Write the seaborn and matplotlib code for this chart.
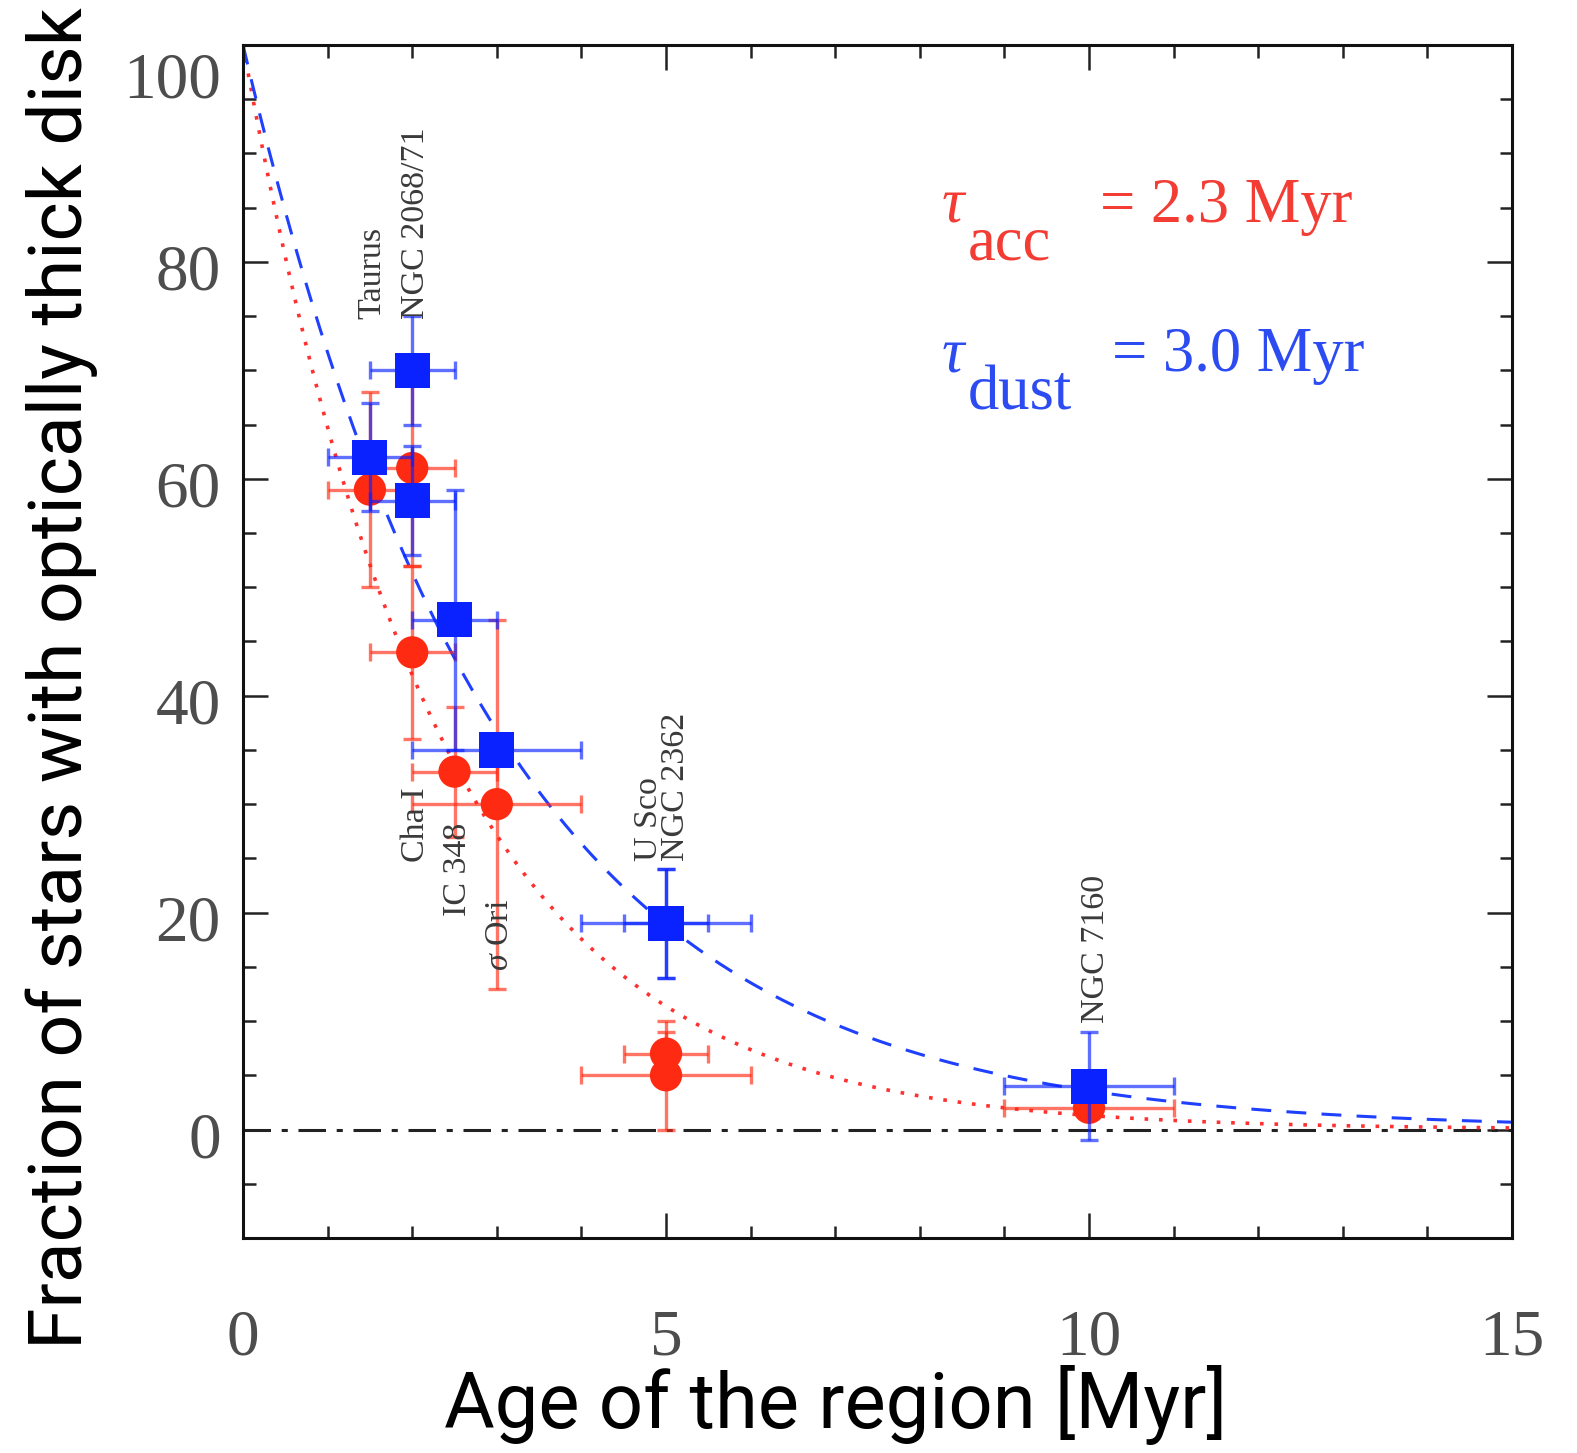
import numpy as np
import pandas as pd
import matplotlib
matplotlib.use("Agg")
import matplotlib.pyplot as plt
import matplotlib.transforms as mtransforms
import seaborn as sns

# Star-forming regions and their ages [Myr]
regions = ["Taurus", "NGC 2068/71", "Cha I", "IC 348", r"$\it{\sigma}$ Ori",
           "U Sco", "NGC 2362", "NGC 7160"]
age = [1.5, 2.0, 2.0, 2.5, 3.0, 5.0, 5.0, 10.0]
age_err = [0.5, 0.5, 0.5, 0.5, 1.0, 1.0, 0.5, 1.0]

# Fraction of accreting stars [%]
acc_frac = [59, 61, 44, 33, 30, 5, 7, 2]
acc_err = [9, 9, 8, 6, 17, 5, 2, 0]

# Fraction of stars with optically thick (dusty) disks [%]
dust_frac = [62, 70, 58, 47, 35, 19, 19, 4]
dust_err = [5, 5, 5, 12, 0, 5, 5, 5]

# Exponential decay timescales [Myr]
tau_acc = 2.3
tau_dust = 3.0

# Where each region name sits (centre x, bottom y in data units)
label_pos = {
    "Taurus": (1.53, 74.7),
    "NGC 2068/71": (2.04, 74.7),
    "Cha I": (2.04, 24.7),
    "IC 348": (2.54, 19.7),
    r"$\it{\sigma}$ Ori": (3.04, 14.6),
    "U Sco": (4.80, 24.8),
    "NGC 2362": (5.12, 24.8),
    "NGC 7160": (10.08, 9.8),
}

RED = "#ff2a12"
BLUE = "#0a22ff"
RED_TXT = "#f23c34"
BLUE_TXT = "#2c4cf2"
GREY = "#4d4d4d"

sns.set_theme(style="white")
plt.rcParams["font.family"] = ["Liberation Serif", "DejaVu Serif"]
plt.rcParams["mathtext.fontset"] = "custom"
plt.rcParams["mathtext.rm"] = "Liberation Serif"
plt.rcParams["mathtext.it"] = "Liberation Serif:italic"

fig = plt.figure(figsize=(15.77, 14.53), dpi=100)
ax = fig.add_axes([0.1541, 0.1480, 0.8047, 0.8210])

# Model curves
t = np.linspace(0, 15, 600)
curves = pd.DataFrame({
    "age": t,
    "acc": 100 * np.exp(-t / tau_acc),
    "dust": 100 * np.exp(-t / tau_dust),
})

ax.axhline(0, color="#222222", lw=2.2, ls=(0, (9, 3.5, 2, 3.5)), zorder=1)
sns.lineplot(data=curves, x="age", y="acc", ax=ax, color="#ff3030",
             lw=2.6, ls=(0, (1, 3)), zorder=2)
sns.lineplot(data=curves, x="age", y="dust", ax=ax, color="#2040ff",
             lw=2.2, ls=(0, (6.5, 5)), zorder=2)

# Accretion fractions
ax.errorbar(age, acc_frac, xerr=age_err, yerr=acc_err, fmt="none",
            ecolor=RED, elinewidth=2.4, capsize=6.5, capthick=2.4,
            alpha=0.65, zorder=3)
sns.scatterplot(x=age, y=acc_frac, ax=ax, marker="o", s=540, color=RED,
                edgecolor="none", linewidth=0, zorder=4)

# Dust fractions
ax.errorbar(age, dust_frac, xerr=age_err, yerr=dust_err, fmt="none",
            ecolor=BLUE, elinewidth=2.4, capsize=6.5, capthick=2.4,
            alpha=0.65, zorder=5)
sns.scatterplot(x=age, y=dust_frac, ax=ax, marker="s", s=640, color=BLUE,
                edgecolor="none", linewidth=0, zorder=6)

# Region names
for name in regions:
    lx, ly = label_pos[name]
    ax.text(lx, ly, name, rotation=90, ha="center", va="bottom",
            fontsize=24.5, color="#3a3a3a", zorder=7)

# Timescale annotations
for col, base, sub, val, vx in [(RED_TXT, 83.7, "acc", "= 2.3 Myr", 10.13),
                                (BLUE_TXT, 69.9, "dust", "= 3.0 Myr", 10.27)]:
    ax.text(8.26, base, "τ", fontsize=45, style="italic", color=col,
            ha="left", va="baseline")
    ax.text(8.57, base - 3.5, sub, fontsize=45, color=col,
            ha="left", va="baseline")
    ax.text(vx, base, val, fontsize=45, color=col, ha="left",
            va="baseline")

ax.set_xlim(0, 15)
ax.set_ylim(-10, 100)
ax.set_xticks([0, 5, 10, 15])
ax.set_xticks(np.arange(0, 16, 1), minor=True)
ax.set_yticks(np.arange(0, 101, 20))
ax.set_yticks(np.arange(-10, 101, 5), minor=True)
ax.set_xlabel("")
ax.set_ylabel("")

ax.tick_params(which="both", direction="in", top=True, right=True,
               bottom=True, left=True, width=1.8, color="#222222")
ax.tick_params(which="major", length=18)
ax.tick_params(which="minor", length=9)
ax.tick_params(axis="x", which="major", pad=51, labelsize=47,
               labelcolor=GREY)
ax.tick_params(axis="y", which="major", pad=16, labelsize=47,
               labelcolor=GREY)
for sp in ax.spines.values():
    sp.set_linewidth(2.2)
    sp.set_color("#111111")

# Nudge the y tick labels down a little; the top one more so it stays inside
fig.canvas.draw()
for tick in ax.yaxis.get_major_ticks():
    dy = -30 if abs(tick.get_loc() - 100) < 1e-6 else -5
    off = mtransforms.ScaledTranslation(0, dy / 100, fig.dpi_scale_trans)
    tick.label1.set_transform(tick.label1.get_transform() + off)

sans = ["Roboto", "DejaVu Sans"]
fig.text(0.039, 0.5335, "Fraction of stars with optically thick disk",
         rotation=90, ha="center", va="center", fontsize=54,
         family=sans, color="black")
fig.text(0.530, 0.033, "Age of the region [Myr]", ha="center",
         va="center", fontsize=56, family=sans, color="black")

fig.savefig("out.png", dpi=100)
